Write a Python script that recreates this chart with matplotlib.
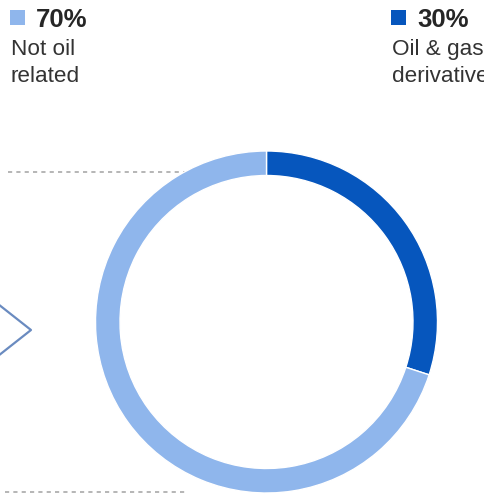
import matplotlib.pyplot as plt
from matplotlib.lines import Line2D

# shares of the total
labels = ["Oil & gas\nderivative", "Not oil\nrelated"]
shares = [30, 70]
colors = ["#0656bd", "#8fb6ec"]

W, H = 485, 494

fig = plt.figure(figsize=(W / 100, H / 100), dpi=100)
ax = fig.add_axes([0, 0, 1, 1])

# ring, starting at 12 o'clock and going clockwise
cx, cy, r = 266.5, H - 322, 171
ax.pie(shares, colors=colors, startangle=90, counterclock=False,
       center=(cx, cy), radius=r, frame=True,
       wedgeprops=dict(width=24.5, edgecolor="white", linewidth=1))
ax.set_xlim(0, W)
ax.set_ylim(0, H)
ax.set_aspect("auto")
ax.axis("off")

# dotted guide lines behind the ring
ax.plot([8, 190], [H - 172, H - 172], ls=(0, (2.5, 2.5)), color="#a9a9a9", lw=1.2, zorder=0)
ax.plot([5, 185], [H - 492, H - 492], ls=(0, (2.5, 2.5)), color="#a9a9a9", lw=1.2, zorder=0)

# chevron on the left edge
ax.add_line(Line2D([-2, 31, -2], [H - 304, H - 330, H - 356], color="#6a8bc0", lw=1.6))

# legend blocks
font = "Liberation Sans"


def legend_block(x, share, label, color):
    ax.add_patch(plt.Rectangle((x, H - 25), 15, 15, color=color, lw=0))
    ax.text(x + 26, H - 27, f"{share}%", fontsize=18.5, fontweight="bold",
            color="#262626", family=font, va="baseline")
    for i, line in enumerate(label.split("\n")):
        ax.text(x + 1, H - 55 - 27 * i, line, fontsize=16.2, color="#333333",
                family=font, va="baseline")


legend_block(10, shares[1], labels[1], colors[1])
legend_block(391, shares[0], labels[0], colors[0])

fig.savefig("out.png", dpi=100)
